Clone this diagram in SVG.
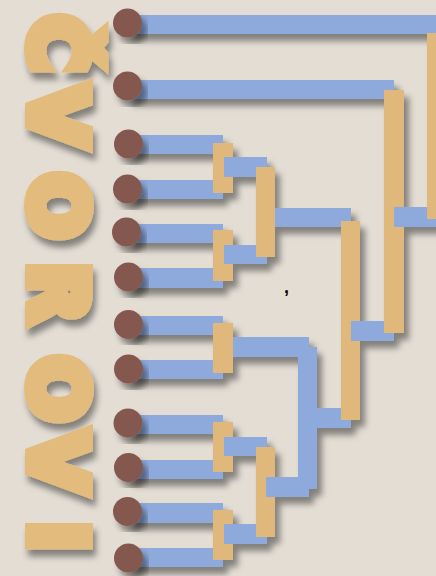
<svg xmlns="http://www.w3.org/2000/svg" width="436" height="576" viewBox="0 0 436 576">
  <defs>
    <filter id="sh" x="-20%" y="-20%" width="140%" height="140%">
      <feDropShadow dx="5" dy="7" stdDeviation="3" flood-color="#000" flood-opacity="0.42"/>
    </filter>
    <filter id="tsh" x="-20%" y="-20%" width="140%" height="140%">
      <feDropShadow dx="3" dy="7" stdDeviation="3" flood-color="#000" flood-opacity="0.42"/>
    </filter>
  </defs>
  <style>
    .b { fill: #8eaadd; }
    .o { fill: #e0b87c; }
    .leaf { fill: #855850; }
    .title { font-family: "DejaVu Sans", "Liberation Sans", sans-serif; font-weight: 700; font-size: 77px; fill: #e2bb7d; stroke: #e2bb7d; stroke-width: 12; stroke-linejoin: miter; stroke-miterlimit: 3; }
  </style>
  <rect width="436" height="576" fill="#e3ddd4"/>

  <g id="title" filter="url(#tsh)">
    <text class="title" transform="rotate(90)" x="15 86 173 263 356 432 522" y="-31">ČVOROVI</text>
  </g>

  <g id="connectors" filter="url(#sh)">
    <rect class="b" x="128" y="15" width="312" height="19"/>
    <rect class="b" x="128" y="80" width="266" height="19"/>
    <rect class="b" x="128" y="135" width="95" height="19"/>
    <rect class="b" x="128" y="180" width="95" height="19"/>
    <rect class="b" x="128" y="224" width="95" height="19"/>
    <rect class="b" x="128" y="268" width="95" height="20"/>
    <rect class="b" x="128" y="316" width="95" height="19"/>
    <rect class="b" x="128" y="360" width="95" height="19"/>
    <rect class="b" x="128" y="415" width="95" height="19"/>
    <rect class="b" x="128" y="460" width="95" height="19"/>
    <rect class="b" x="128" y="503" width="95" height="20"/>
    <rect class="b" x="128" y="548" width="95" height="19"/>

    <rect class="o" x="213" y="143" width="20" height="50"/>
    <rect class="o" x="213" y="230" width="20" height="51"/>
    <rect class="o" x="213" y="323" width="20" height="50"/>
    <rect class="o" x="213" y="422" width="20" height="50"/>
    <rect class="o" x="213" y="510" width="20" height="50"/>

    <rect class="b" x="224" y="157" width="43" height="20"/>
    <rect class="b" x="224" y="245" width="43" height="19"/>
    <rect class="b" x="233" y="337" width="76" height="20"/>
    <rect class="b" x="224" y="437" width="43" height="19"/>
    <rect class="b" x="224" y="524" width="43" height="20"/>

    <rect class="o" x="256" y="167" width="19" height="90"/>
    <rect class="o" x="256" y="447" width="19" height="90"/>

    <rect class="b" x="275" y="208" width="76" height="19"/>
    <rect class="b" x="266" y="477" width="43" height="20"/>
    <rect class="b" x="298" y="347" width="19" height="142"/>
    <rect class="b" x="317" y="408" width="34" height="20"/>

    <rect class="o" x="341" y="221" width="19" height="199"/>
    <rect class="b" x="351" y="321" width="43" height="20"/>
    <rect class="o" x="384" y="90" width="20" height="243"/>
    <rect class="b" x="394" y="207" width="46" height="20"/>
    <rect class="o" x="427" y="33" width="20" height="186"/>
  </g>

  <g id="leaf1" filter="url(#sh)"><circle class="leaf" cx="127.5" cy="23" r="14.5"/></g>
  <g id="leaf2" filter="url(#sh)"><circle class="leaf" cx="127.5" cy="86" r="14.5"/></g>
  <g id="leaf3" filter="url(#sh)"><circle class="leaf" cx="128.5" cy="144" r="14.5"/></g>
  <g id="leaf4" filter="url(#sh)"><circle class="leaf" cx="127.5" cy="189" r="14.5"/></g>
  <g id="leaf5" filter="url(#sh)"><circle class="leaf" cx="126.5" cy="232" r="14.5"/></g>
  <g id="leaf6" filter="url(#sh)"><circle class="leaf" cx="128.5" cy="277" r="14.5"/></g>
  <g id="leaf7" filter="url(#sh)"><circle class="leaf" cx="128.5" cy="324.5" r="14.5"/></g>
  <g id="leaf8" filter="url(#sh)"><circle class="leaf" cx="128.5" cy="369" r="14.5"/></g>
  <g id="leaf9" filter="url(#sh)"><circle class="leaf" cx="128" cy="423" r="14.5"/></g>
  <g id="leaf10" filter="url(#sh)"><circle class="leaf" cx="128.5" cy="467.5" r="14.5"/></g>
  <g id="leaf11" filter="url(#sh)"><circle class="leaf" cx="127.5" cy="511.5" r="14.5"/></g>
  <g id="leaf12" filter="url(#sh)"><circle class="leaf" cx="128.5" cy="558" r="14.5"/></g>

  <g id="mark">
    <text x="284" y="293" font-family="Liberation Sans, sans-serif" font-weight="700" font-size="18" fill="#000">,</text>
  </g>
</svg>
